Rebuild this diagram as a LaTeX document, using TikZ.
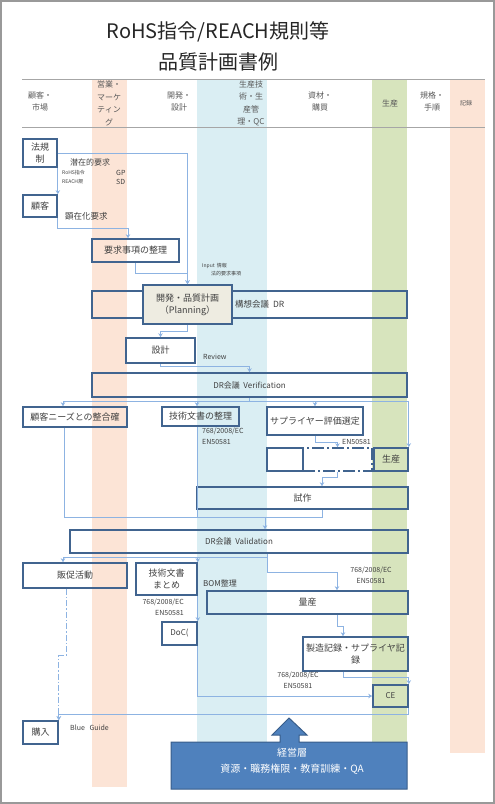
\documentclass[tikz,border=0pt]{standalone}
\usepackage{fontspec}
\setmainfont{Noto Sans CJK JP}
\usepackage{xcolor}
\usepackage{tikz}
\usetikzlibrary{arrows.meta}
\usetikzlibrary{calc}
\definecolor{peach}{HTML}{FCE4D6}
\definecolor{paleblue}{HTML}{DAEEF3}
\definecolor{palegreen}{HTML}{D7E4BD}
\definecolor{boxblue}{HTML}{41648F}
\definecolor{linkblue}{HTML}{8DB3E2}
\definecolor{beige}{HTML}{EEECE1}
\definecolor{mgmtfill}{HTML}{4F81BD}
\definecolor{mgmtline}{HTML}{385D8A}
\definecolor{txtgray}{HTML}{404040}
\definecolor{headgray}{HTML}{595959}
\tikzstyle{block} = [draw=boxblue, line width=1.6pt, inner sep=1pt,
	align=center, text=txtgray,
	font=\fontsize{9}{12}\selectfont]
\tikzstyle{arrow} = [-{Stealth[length=4pt,width=4.5pt]}, draw=linkblue, line width=0.8pt]
\tikzstyle{link} = [draw=linkblue, line width=0.8pt]
\tikzstyle{note} = [inner sep=0pt, text=txtgray, align=center,
	font=\fontsize{7}{10.5}\selectfont]
\tikzstyle{head} = [inner sep=0pt, text=headgray, align=center,
	font=\fontsize{8}{12.5}\selectfont]
\newcommand{\fsize}[1]{\fontsize{#1}{1.25\dimexpr#1pt\relax}\selectfont}

\begin{document}
\begin{tikzpicture}[x=1pt, y=-1pt]
	\useasboundingbox (0,0) rectangle (495,804);
	\draw[gray!80, line width=1.5pt] (1,1) rectangle (494,803);

	% lanes
	\fill[peach] (92,79) rectangle (127,787);
	\fill[paleblue] (197,79) rectangle (267,742);
	\fill[palegreen] (372,79) rectangle (407,742);
	\fill[peach] (450,79) rectangle (485,753);
	\draw[gray!70, line width=1pt] (22,79) -- (485,79);
	\draw[gray!70, line width=1pt] (22,127) -- (485,127);

	\node (title) [font=\fsize{20}, text=black!85] at (218,32) {RoHS指令/REACH規則等};
	\node (title2) [font=\fsize{20}, text=black!85] at (218,62) {品質計画書例};

	\node (hcust) [head] at (40,101.5) {顧客・\\市場};
	\node (hsales) [head] at (109,103.5) {営業・\\マーケ\\ティン\\グ};
	\node (hdev) [head] at (179,101.5) {開発・\\設計};
	\node (hqc) [head] at (251,103.5) {生産技\\術・生\\産管\\理・QC};
	\node (hbuy) [head] at (320,101.5) {資材・\\購買};
	\node (hprod) [head] at (390,103) {生産};
	\node (hstd) [head] at (432,101.5) {規格・\\手順};
	\node (hrec) [head, font=\fsize{6}] at (466,103) {記録};

	% boxes
	\node (law) [block, minimum width=34pt, minimum height=28pt] at (40,153) {法規\\制};
	\node (cust) [block, minimum width=34pt, minimum height=22pt] at (40,206) {顧客};
	\node (req) [block, minimum width=87pt, minimum height=23pt] at (135.5,250.5) {要求事項の整理};
	\node (dr1) [block, minimum width=315pt, minimum height=27pt] at (249.5,304.5) {};
	\node (plan) [block, fill=beige, minimum width=89pt, minimum height=39pt] at (187.5,304.5) {開発・品質計画\\（Planning）};
	\node (design) [block, minimum width=69pt, minimum height=25pt] at (160.5,350.5) {設計};
	\node (dr2) [block, font=\fsize{8}, minimum width=315pt, minimum height=24pt] at (249.5,385) {DR会議\ \ Verification};
	\node (needs) [block, minimum width=104pt, minimum height=20pt] at (75,417) {顧客ニーズとの整合確};
	\node (tdoc) [block, minimum width=77pt, minimum height=19pt] at (200.5,416.5) {技術文書の整理};
	\node (supp) [block, minimum width=96pt, minimum height=28pt] at (315,421) {サプライヤー評価選定};
	\node (rowa) [block, minimum width=36pt, minimum height=23pt] at (285,459.5) {};
	\node (rowb) [block, dash pattern=on 12pt off 3pt on 2pt off 3pt, minimum width=69pt, minimum height=23pt] at (337.5,459.5) {};
	\node (prod) [block, fill=palegreen, minimum width=34pt, minimum height=23pt] at (391,459.5) {生産};
	\node (proto) [block, minimum width=211pt, minimum height=22pt] at (302.5,498) {試作};
	\node (dr3) [block, font=\fsize{8}, minimum width=338pt, minimum height=23pt] at (239,541.5) {DR会議\ \ Validation};
	\node (promo) [block, minimum width=104pt, minimum height=25pt] at (75,575.5) {販促活動};
	\node (tsum) [block, minimum width=61pt, minimum height=32pt] at (166.5,579) {技術文書\\まとめ};
	\node (doc) [block, font=\fsize{8}, minimum width=35pt, minimum height=23pt] at (179.5,633.5) {DoC(};
	\node (mass) [block, minimum width=201pt, minimum height=23pt] at (307.5,602.5) {量産};
	\node (mrec) [block, minimum width=105pt, minimum height=34pt] at (355.5,654) {製造記録・サプライヤ記\\録};
	\node (ce) [block, fill=palegreen, font=\fsize{8}, minimum width=35pt, minimum height=22pt] at (390.5,696) {CE};
	\node (buy) [block, minimum width=35pt, minimum height=23pt] at (40.5,732.5) {購入};

	% connectors
	\draw [arrow] (law.east) -| (plan.north);
	\draw [arrow] (law.south east) -- (cust.north east);
	\draw [arrow] (cust.south east) -- ++(0,11) -| ($(req.north)+(-7.5,0)$);
	\draw [arrow] (req.south) -- ++(0,11) -| (plan.north);
	\draw [arrow] (plan.south) -- ++(0,7) -| (design.north);
	\draw [arrow] (design.south) -- ++(0,3) -| (dr2.north);

	\coordinate (split) at ($(dr2.south)+(0,4)$);
	\draw [link] (dr2.south) -- (split);
	\draw [arrow] (split) -| ($(needs.north)+(-12,0)$);
	\draw [arrow] (split) -| ($(tdoc.north)+(-3.5,0)$);
	\draw [arrow] (split) -| (supp.north);
	\draw [arrow] (split) -| (prod.north east);
	\draw [arrow] (supp.south) -- ++(0,7) -| (rowb.north);
	\draw [arrow] (rowb.south) -- ++(0,6) -| ($(proto.north)+(19.5,0)$);

	\coordinate (join) at ($(dr3.north)+(26,-12)$);
	\draw [link] ($(needs.south)+(-11,0)$) |- (join);
	\draw [link] ($(tdoc.south)+(-3.5,0)$) |- (join);
	\draw [link] ($(proto.south)+(19.5,0)$) |- (join);
	\draw [arrow] (join) -- ($(dr3.north)+(26,0)$);

	\coordinate (split2) at ($(dr3.south)+(28,4)$);
	\draw [link] ($(dr3.south)+(28,0)$) -- (split2);
	\draw [arrow] (split2) -| ($(promo.north)+(-12,0)$);
	\draw [arrow] (split2) -| (tsum.north east);
	\draw [arrow] (split2) -- ++(0,15) -| ($(mass.north)+(29.5,0)$);
	\draw [arrow] (tsum.south east) -- (doc.north east);
	\draw [arrow] (doc.south east) |- (ce.west);
	\draw [arrow] ($(mass.south)+(29.5,0)$) -- ++(0,12) -| ($(mrec.north)+(-12.5,0)$);
	\draw [arrow] ($(mrec.south)+(-12.5,0)$) -- ++(0,6) -| (ce.north east);
	\draw [arrow] (ce.south east) -- ++(0,7) -| (buy.north east);
	\draw [arrow, dash pattern=on 6pt off 2pt on 1.5pt off 2pt] ($(promo.south)+(-9,0)$) -- ++(0,67) -| (buy.north east);

	% labels
	\node (latent) [note, anchor=west, font=\fsize{8}] at (70,162) {潜在的要求};
	\node (rohs) [note, anchor=west, font=\fsize{5}] at (62,173) {RoHS指令};
	\node (reach) [note, anchor=west, font=\fsize{5}] at (62,182) {REACH規};
	\node (gp) [note, anchor=west] at (116,173) {GP};
	\node (sd) [note, anchor=west] at (116,182) {SD};
	\node (explicit) [note, anchor=west, font=\fsize{8.5}] at (65,216) {顕在化要求};
	\node (input) [note, anchor=west, font=\fsize{5}] at (202,266) {Input\ \ 情報};
	\node (legal) [note, anchor=west, font=\fsize{5}] at (211,274) {法的要求事項};
	\node (dr1txt) [note, anchor=west, font=\fsize{8.5}] at (235,304.5) {構想会議\ \ DR};
	\node (review) [note, anchor=west] at (203,357) {Review};
	\node (std1) [note, anchor=north west, align=left] at (202,428) {768/2008/EC\\EN50581};
	\node (std2) [note, anchor=west] at (342,442) {EN50581};
	\node (std3) [note, anchor=north east, align=right] at (184,599) {768/2008/EC\\EN50581};
	\node (bom) [note, anchor=west, font=\fsize{8}] at (203,583) {BOM整理};
	\node (std4) [note, anchor=north] at (371,567) {768/2008/EC\\EN50581};
	\node (std5) [note, anchor=north] at (298,672) {768/2008/EC\\EN50581};
	\node (guide) [note, anchor=west] at (70,728) {Blue\ \ \ Guide};

	% management arrow
	\draw[fill=mgmtfill, draw=mgmtline, line width=1pt]
		(171,789) -- (171,742) -- (280,742) -- (280,735) -- (272,735) -- (289,718)
		-- (307,735) -- (299,735) -- (299,742) -- (407,742) -- (407,789) -- cycle;
	\node (mgmt) [align=center, text=white, font=\fontsize{10}{16}\selectfont] at (292,761) {経営層\\資源・職務権限・教育訓練・QA};
\end{tikzpicture}
\end{document}
